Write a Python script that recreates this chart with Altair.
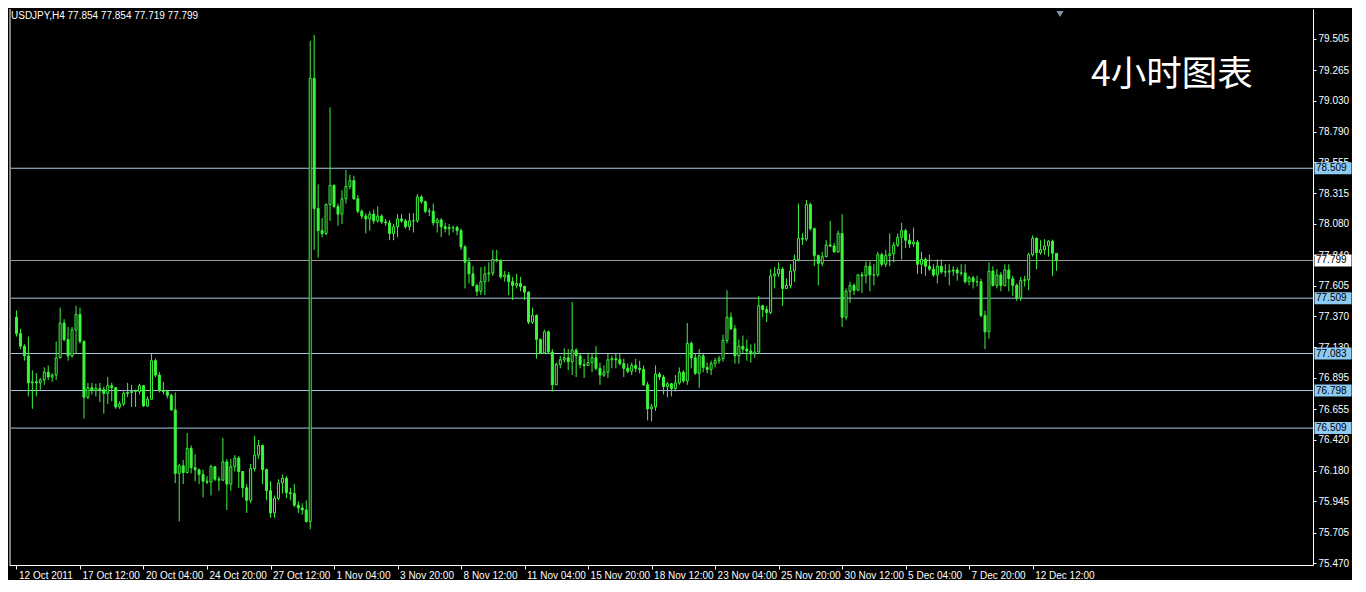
import altair as alt
import pandas as pd

GREEN = "#3df53d"
FONT = "Liberation Sans"
W, H = 1304, 556

first_open = 77.362
close_ = [
    77.236, 77.139, 77.065, 76.857, 76.865, 76.857, 76.880, 76.939, 76.902, 76.917,
    77.050, 77.317, 77.191, 77.065, 77.265, 77.384, 77.176, 76.746, 76.820, 76.798,
    76.813, 76.805, 76.776, 76.835, 76.820, 76.672, 76.694, 76.776, 76.783, 76.791,
    76.791, 76.835, 76.679, 76.731, 77.028, 76.917, 76.798, 76.791, 76.761, 76.649,
    76.160, 76.219, 76.167, 76.353, 76.204, 76.189, 76.152, 76.100, 76.093, 76.212,
    76.115, 76.108, 76.249, 76.078, 76.212, 76.278, 76.175, 76.049, 75.953, 76.197,
    76.301, 76.375, 76.189, 76.027, 75.856, 75.968, 76.086, 76.123, 76.012, 76.005,
    75.916, 75.894, 75.879, 75.790, 79.201, 78.200, 78.029, 78.007, 78.230, 78.377,
    78.215, 78.156, 78.274, 78.370, 78.414, 78.274, 78.178, 78.141, 78.119, 78.156,
    78.104, 78.141, 78.096, 78.089, 78.007, 78.059, 78.119, 78.104, 78.059, 78.104,
    78.104, 78.288, 78.252, 78.178, 78.178, 78.089, 78.111, 78.059, 78.044, 78.052,
    78.052, 78.029, 77.903, 77.785, 77.696, 77.607, 77.562, 77.636, 77.696, 77.703,
    77.807, 77.800, 77.673, 77.688, 77.636, 77.607, 77.622, 77.599, 77.555, 77.325,
    77.376, 77.191, 77.087, 77.250, 77.095, 76.842, 76.998, 77.035, 77.050, 77.020,
    77.109, 77.065, 76.998, 76.991, 77.013, 77.050, 76.969, 76.917, 76.939, 77.035,
    77.043, 77.035, 77.005, 76.969, 76.946, 76.991, 76.969, 76.961, 76.842, 76.657,
    76.672, 76.924, 76.902, 76.828, 76.850, 76.813, 76.857, 76.939, 76.872, 77.161,
    77.050, 76.931, 77.065, 76.976, 76.961, 77.005, 77.028, 77.043, 77.184, 77.362,
    77.273, 77.065, 77.139, 77.117, 77.102, 77.080, 77.095, 77.451, 77.421, 77.399,
    77.681, 77.696, 77.733, 77.584, 77.607, 77.718, 77.807, 77.970, 77.963, 78.230,
    78.044, 77.837, 77.777, 77.829, 77.918, 77.911, 77.866, 78.007, 77.362, 77.562,
    77.607, 77.570, 77.688, 77.681, 77.755, 77.688, 77.688, 77.844, 77.770, 77.837,
    77.851, 77.918, 77.978, 78.029, 77.955, 77.926, 77.940, 77.770, 77.807, 77.755,
    77.733, 77.688, 77.755, 77.711, 77.711, 77.718, 77.726, 77.703, 77.703, 77.636,
    77.666, 77.636, 77.636, 77.376, 77.250, 77.718, 77.607, 77.688, 77.607, 77.726,
    77.659, 77.607, 77.510, 77.644, 77.651, 77.844, 77.970, 77.859, 77.881, 77.911,
    77.948, 77.854, 77.799,
]
high_ = [
    77.414, 77.273, 77.154, 77.213, 76.954, 76.931, 76.894, 76.976, 76.991, 76.931,
    77.176, 77.436, 77.347, 77.287, 77.287, 77.451, 77.436, 77.184, 76.857, 76.857,
    76.850, 76.857, 76.828, 76.902, 76.857, 76.820, 76.716, 76.791, 76.857, 76.842,
    76.805, 76.850, 76.842, 76.753, 77.080, 77.043, 76.939, 76.865, 76.805, 76.776,
    76.783, 76.234, 76.264, 76.471, 76.375, 76.308, 76.197, 76.189, 76.138, 76.227,
    76.212, 76.138, 76.434, 76.271, 76.271, 76.301, 76.293, 76.175, 76.078, 76.234,
    76.449, 76.419, 76.382, 76.197, 76.100, 75.990, 76.115, 76.152, 76.138, 76.049,
    76.078, 75.945, 75.931, 75.953, 79.490, 79.535, 78.385, 78.126, 78.237, 78.978,
    78.385, 78.237, 78.340, 78.496, 78.459, 78.452, 78.303, 78.193, 78.163, 78.178,
    78.193, 78.215, 78.156, 78.119, 78.111, 78.081, 78.156, 78.156, 78.119, 78.163,
    78.163, 78.311, 78.303, 78.260, 78.200, 78.237, 78.126, 78.126, 78.089, 78.081,
    78.067, 78.067, 78.044, 77.918, 77.822, 77.755, 77.622, 77.748, 77.755, 77.785,
    77.881, 77.881, 77.807, 77.718, 77.711, 77.673, 77.696, 77.673, 77.607, 77.562,
    77.436, 77.384, 77.198, 77.265, 77.260, 77.117, 77.013, 77.065, 77.124, 77.117,
    77.480, 77.124, 77.087, 77.043, 77.087, 77.087, 77.139, 77.013, 76.991, 77.080,
    77.065, 77.080, 77.080, 77.043, 77.005, 77.013, 77.043, 77.028, 76.991, 76.865,
    76.694, 76.991, 76.939, 76.917, 76.865, 76.857, 76.917, 76.976, 76.954, 77.317,
    77.176, 77.080, 77.117, 77.080, 77.013, 77.028, 77.050, 77.065, 77.228, 77.570,
    77.399, 77.302, 77.191, 77.221, 77.191, 77.154, 77.161, 77.525, 77.458, 77.451,
    77.733, 77.748, 77.785, 77.748, 77.659, 77.770, 77.844, 78.237, 78.007, 78.266,
    78.244, 78.052, 77.844, 77.866, 77.955, 78.104, 77.933, 78.029, 78.156, 77.584,
    77.636, 77.622, 77.696, 77.711, 77.792, 77.792, 77.770, 77.866, 77.859, 77.881,
    78.007, 77.940, 78.007, 78.089, 78.044, 78.007, 78.052, 77.955, 77.866, 77.822,
    77.844, 77.770, 77.807, 77.807, 77.770, 77.770, 77.755, 77.748, 77.770, 77.770,
    77.681, 77.681, 77.681, 77.659, 77.414, 77.785, 77.755, 77.733, 77.711, 77.770,
    77.770, 77.681, 77.622, 77.673, 77.681, 77.859, 77.992, 77.978, 77.955, 77.963,
    77.955, 77.960, 77.854,
]
low_ = [
    77.213, 77.117, 77.028, 76.753, 76.657, 76.753, 76.805, 76.842, 76.880, 76.865,
    76.880, 77.043, 77.176, 77.028, 77.050, 77.080, 77.161, 76.583, 76.731, 76.768,
    76.753, 76.709, 76.620, 76.694, 76.716, 76.657, 76.657, 76.679, 76.746, 76.672,
    76.672, 76.768, 76.672, 76.672, 76.731, 76.902, 76.783, 76.768, 76.738, 76.642,
    76.086, 75.790, 76.078, 76.160, 76.160, 76.100, 76.078, 75.975, 76.078, 75.990,
    76.100, 76.027, 76.100, 75.879, 76.027, 76.175, 76.049, 75.975, 75.856, 75.931,
    76.175, 76.271, 76.078, 75.953, 75.819, 75.819, 75.953, 76.005, 75.968, 75.953,
    75.901, 75.856, 75.842, 75.782, 75.730, 77.881, 77.822, 77.978, 77.992, 78.104,
    78.200, 78.067, 78.081, 78.237, 78.348, 78.266, 78.163, 78.119, 78.007, 78.029,
    78.081, 78.089, 78.081, 78.067, 77.955, 77.955, 77.978, 78.089, 78.044, 78.030,
    78.015, 78.089, 78.237, 78.163, 78.141, 78.067, 78.015, 77.978, 78.015, 77.992,
    78.015, 77.992, 77.881, 77.584, 77.622, 77.599, 77.525, 77.533, 77.533, 77.636,
    77.681, 77.785, 77.659, 77.636, 77.533, 77.495, 77.584, 77.562, 77.495, 77.310,
    77.310, 77.043, 77.080, 77.080, 77.080, 76.791, 76.842, 76.969, 77.013, 76.954,
    76.917, 76.902, 76.969, 76.894, 76.991, 76.939, 76.954, 76.842, 76.902, 76.894,
    76.969, 76.969, 76.991, 76.902, 76.931, 76.917, 76.939, 76.931, 76.835, 76.568,
    76.560, 76.642, 76.880, 76.768, 76.746, 76.753, 76.791, 76.842, 76.857, 76.842,
    76.969, 76.917, 76.820, 76.939, 76.931, 76.917, 76.976, 77.005, 77.020, 77.161,
    77.265, 77.005, 77.005, 77.087, 77.028, 77.013, 77.050, 77.080, 77.362, 77.325,
    77.384, 77.584, 77.673, 77.451, 77.584, 77.584, 77.636, 77.792, 77.918, 77.948,
    78.029, 77.755, 77.607, 77.755, 77.822, 77.903, 77.859, 77.859, 77.287, 77.339,
    77.473, 77.533, 77.562, 77.547, 77.622, 77.562, 77.607, 77.673, 77.755, 77.748,
    77.755, 77.785, 77.903, 77.807, 77.896, 77.896, 77.903, 77.696, 77.696, 77.681,
    77.718, 77.673, 77.622, 77.696, 77.673, 77.607, 77.681, 77.644, 77.681, 77.622,
    77.607, 77.584, 77.599, 77.362, 77.117, 77.198, 77.599, 77.584, 77.562, 77.599,
    77.562, 77.525, 77.488, 77.488, 77.599, 77.570, 77.829, 77.733, 77.844, 77.844,
    77.829, 77.681, 77.719,
]

x_tick_idx = [0, 16, 32, 48, 64, 80, 96, 112, 128, 144, 160, 176, 192, 208, 224, 240, 256]
x_tick_lbl = ["12 Oct 2011", "17 Oct 12:00", "20 Oct 04:00", "24 Oct 20:00", "27 Oct 12:00",
              "1 Nov 04:00", "3 Nov 20:00", "8 Nov 12:00", "11 Nov 04:00", "15 Nov 20:00",
              "18 Nov 12:00", "23 Nov 04:00", "25 Nov 20:00", "30 Nov 12:00", "5 Dec 04:00",
              "7 Dec 20:00", "12 Dec 12:00"]
y_ticks = [75.470, 75.705, 75.945, 76.180, 76.420, 76.655, 76.895, 77.130, 77.370,
           77.605, 77.840, 78.080, 78.315, 78.555, 78.790, 79.030, 79.265, 79.505]
level_vals = [78.509, 77.799, 77.509, 77.083, 76.798, 76.509]
level_lbls = ["78.509", "77.799", "77.509", "77.083", "76.798", "76.509"]
level_kind = ["level", "current", "level", "level", "level", "level"]

header = "USDJPY,H4  77.854 77.854 77.719 77.799"
title_text = "4小时图表"

opens = [first_open] + close_[:-1]
df = pd.DataFrame({"i": list(range(len(close_))), "o": opens, "h": high_, "l": low_, "c": close_})
lv = pd.DataFrame({"v": level_vals, "lbl": level_lbls, "kind": level_kind})

xscale = alt.Scale(domain=[-0.625, 325.375], nice=False, zero=False)
yscale = alt.Scale(domain=[75.455, 79.735], nice=False, zero=False)

lbl_arr = "[" + ",".join("'" + s + "'" for s in x_tick_lbl) + "]"
idx_arr = "[" + ",".join(str(v) for v in x_tick_idx) + "]"
xaxis = alt.Axis(values=x_tick_idx, labelExpr=lbl_arr + "[indexof(" + idx_arr + ", datum.value)]",
                 title=None, orient="bottom", grid=False, domainColor="#ffffff", tickColor="#ffffff",
                 tickSize=4, labelColor="#ffffff", labelFont=FONT, labelFontSize=10,
                 labelAlign="left", labelBaseline="top", labelPadding=1, labelOffset=2,
                 labelOverlap=False, labelFlush=False, labelBound=False, zindex=0)
yaxis = alt.Axis(values=y_ticks, format=".3f", title=None, orient="right", grid=False,
                 domainColor="#ffffff", tickColor="#ffffff", tickSize=3, labelColor="#ffffff",
                 labelFont=FONT, labelFontSize=10, labelPadding=2, labelOverlap=False,
                 labelFlush=False, labelBound=False, zindex=0)

is_current = "datum.kind == 'current'"

levels = alt.Chart(lv).mark_rule(strokeWidth=1).encode(
    y=alt.Y("v:Q", scale=yscale, axis=yaxis),
    color=alt.condition(is_current, alt.value("#9a9a9a"), alt.value("#a9c6e3")))

wicks = alt.Chart(df).mark_rule(strokeWidth=1, color=GREEN).encode(
    x=alt.X("i:Q", scale=xscale, axis=xaxis),
    y=alt.Y("l:Q", scale=yscale, axis=yaxis), y2="h:Q")

bodies = alt.Chart(df).mark_bar(size=2, stroke=GREEN, strokeWidth=1).encode(
    x=alt.X("i:Q", scale=xscale, axis=xaxis),
    y=alt.Y("o:Q", scale=yscale, axis=yaxis), y2="c:Q",
    fill=alt.condition("datum.c > datum.o", alt.value("#000000"), alt.value(GREEN)))

boxes = alt.Chart(lv).mark_tick(orient="horizontal", thickness=12, size=37, opacity=1).encode(
    x=alt.value(W + 20), y=alt.Y("v:Q", scale=yscale, axis=yaxis),
    color=alt.condition(is_current, alt.value("#ffffff"), alt.value("#8ecbf3")))

box_text = alt.Chart(lv).mark_text(align="left", baseline="middle", font=FONT, fontSize=10,
                                   color="#000000").encode(
    x=alt.value(W + 3), y=alt.Y("v:Q", scale=yscale, axis=yaxis), text="lbl:N")

head = alt.Chart(pd.DataFrame({"t": [header]})).mark_text(
    align="left", baseline="middle", font=FONT, fontSize=10, color="#ffffff").encode(
    x=alt.value(2), y=alt.value(7), text="t:N")

ttl = alt.Chart(pd.DataFrame({"t": [title_text]})).mark_text(
    align="left", baseline="middle", font="Noto Sans CJK SC", fontSize=35.5, color="#ffffff").encode(
    x=alt.value(1082), y=alt.value(66), text="t:N")

marker = alt.Chart(pd.DataFrame({"t": [1]})).mark_point(
    shape="triangle-down", filled=True, size=50, color="#8394ad", opacity=1).encode(
    x=alt.value(1051), y=alt.value(5))

left_edge = alt.Chart(pd.DataFrame({"t": [1]})).mark_rule(color="#7f7f7f", strokeWidth=2).encode(
    x=alt.value(1), y=alt.value(0), y2=alt.value(H))

chart = alt.layer(levels, wicks, bodies, boxes, box_text, head, ttl, marker, left_edge).properties(
    width=W, height=H, padding=0, background="#000000"
).configure_view(strokeWidth=0)

chart.save("out.html", embed_options={"renderer": "svg", "actions": False})
